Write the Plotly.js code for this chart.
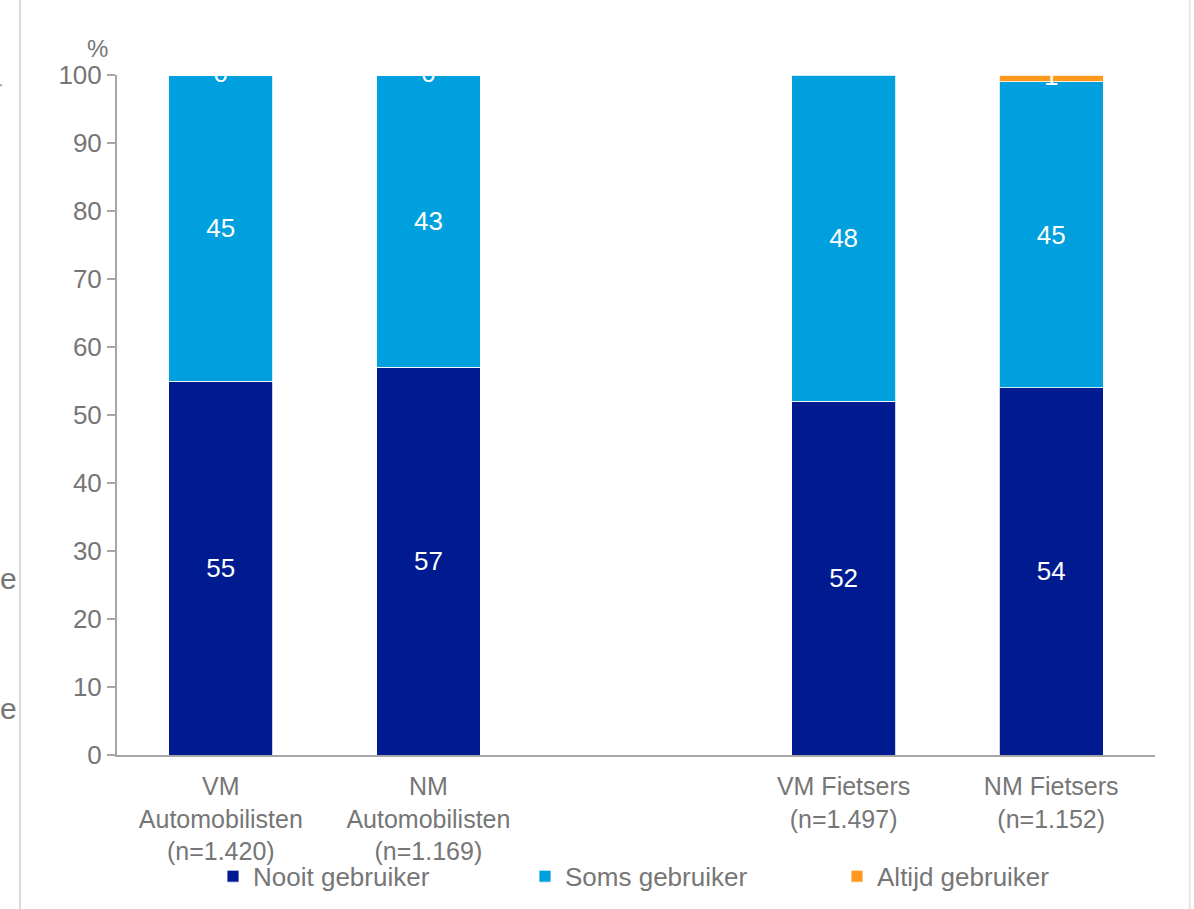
<!DOCTYPE html>
<html>
<head>
<meta charset="utf-8">
<script src="https://cdn.plot.ly/plotly-3.0.1.min.js"></script>
<style>html,body{margin:0;padding:0;background:#fff;}#chart{width:1194px;height:909px;}</style>
</head>
<body>
<div id="chart"></div>
<script>
const categories = ["VM<br>Automobilisten<br>(n=1.420)", "NM<br>Automobilisten<br>(n=1.169)", " ", "VM Fietsers<br>(n=1.497)", "NM Fietsers<br>(n=1.152)"];
const nooit = [55, 57, null, 52, 54];
const soms = [45, 43, null, 48, 45];
const altijd = [0, 0, null, null, 1];
const seriesNames = ["Nooit gebruiker", "Soms gebruiker", "Altijd gebruiker"];
const colors = ["#001A8F", "#009FDD", "#FF9A1F"];

const font = "Liberation Sans, Arial, sans-serif";
const grey = "#767676";
const fs = 26;

function barTrace(vals, name, color) {
  return {
    type: "bar", x: categories, y: vals, name: name,
    marker: {color: color, line: {color: "#ffffff", width: 0.8}},
    width: 0.5,
    text: vals.map(v => (v === null || v === 0) ? "" : String(v)),
    textposition: "inside", insidetextanchor: "middle",
    textfont: {color: "#ffffff", size: fs, family: font},
    hoverinfo: "skip", cliponaxis: true
  };
}

// labels for segments too thin to hold text (drawn at segment centre, clipped by the plot area)
const thinX = [], thinY = [], thinT = [];
categories.forEach((c, i) => {
  const v = altijd[i];
  if (v !== null && v <= 1) {
    thinX.push(c);
    thinY.push((nooit[i] || 0) + (soms[i] || 0) + v / 2);
    thinT.push(String(v));
  }
});

const traces = [
  barTrace(nooit, seriesNames[0], colors[0]),
  barTrace(soms, seriesNames[1], colors[1]),
  barTrace(altijd, seriesNames[2], colors[2]),
  {type: "scatter", mode: "text", x: thinX, y: thinY, text: thinT, showlegend: false,
   textfont: {color: "#ffffff", size: fs, family: font}, cliponaxis: true, hoverinfo: "skip"}
];

const layout = {
  width: 1194, height: 909,
  margin: {l: 117, r: 39, t: 75, b: 154, autoexpand: false},
  paper_bgcolor: "#ffffff", plot_bgcolor: "#ffffff",
  barmode: "stack",
  showlegend: true,
  font: {family: font, size: fs, color: grey},
  xaxis: {
    type: "category", categoryorder: "array", categoryarray: categories,
    range: [-0.5, 4.5], showline: true, linecolor: "#A6A6A6", linewidth: 2,
    ticks: "outside", ticklen: 8, tickcolor: "rgba(0,0,0,0)", showgrid: false, zeroline: false,
    tickfont: {size: 25, color: grey, family: font}, fixedrange: true, automargin: false
  },
  yaxis: {
    range: [0, 100], dtick: 10, showline: true, linecolor: "#A6A6A6", linewidth: 2,
    ticks: "outside", ticklen: 8, tickcolor: "#A6A6A6", tickwidth: 1.5,
    showgrid: false, zeroline: false, automargin: false,
    tickfont: {size: fs, color: grey, family: font}
  },
  legend: {
    orientation: "h", xref: "container", yref: "container", x: 0.1784, xanchor: "left", y: 0.036, yanchor: "middle",
    entrywidth: 267, entrywidthmode: "pixels", traceorder: "normal", bgcolor: "rgba(0,0,0,0)",
    font: {size: fs, color: grey, family: font}, itemclick: false, itemwidth: 30
  },
  annotations: [
    {text: "%", xref: "paper", yref: "paper", x: -0.007, y: 1.0, yshift: 27, showarrow: false,
     xanchor: "right", yanchor: "middle", font: {size: 24, color: grey, family: font}},
    {text: "e", xref: "paper", yref: "paper", x: -0.105, y: 0.26, showarrow: false,
     xanchor: "center", yanchor: "middle", font: {size: 30, color: grey, family: font}},
    {text: "e", xref: "paper", yref: "paper", x: -0.105, y: 0.068, showarrow: false,
     xanchor: "center", yanchor: "middle", font: {size: 30, color: grey, family: font}}
  ],
  shapes: [
    {type: "line", xref: "paper", yref: "paper", x0: -0.0935, x1: -0.0935, y0: -0.23, y1: 1.12,
     line: {color: "#D9D9D9", width: 2}},
    {type: "line", xref: "paper", yref: "paper", x0: 1.0335, x1: 1.0335, y0: -0.23, y1: 1.12,
     line: {color: "#E6E6E6", width: 2}},
    {type: "line", xref: "paper", yref: "paper", x0: -0.1127, x1: -0.1107, y0: 0.985, y1: 0.985,
     line: {color: "#A6A6A6", width: 2}}
  ]
};

Plotly.newPlot("chart", traces, layout, {displayModeBar: false, staticPlot: true});
</script>
</body>
</html>
